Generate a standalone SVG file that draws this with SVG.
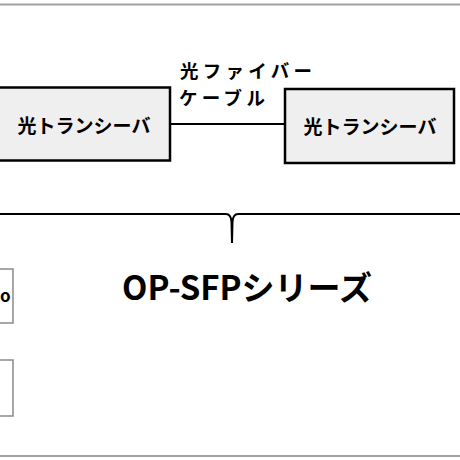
<svg xmlns="http://www.w3.org/2000/svg" width="460" height="460" viewBox="0 0 460 460">
<style>
.box{fill:#efefef;stroke:#000;stroke-width:2.5}
.sbox{fill:#fff;stroke:#8a8a8a;stroke-width:1.5}
.t{font-family:"Noto Sans CJK JP","Noto Sans",sans-serif;font-weight:bold;fill:#000}
.ln{stroke:#000;stroke-width:2;fill:none}
.rule{stroke:#a0a0a0;stroke-width:2}
</style>
<rect width="460" height="460" fill="#fff"/>
<line class="rule" x1="0" y1="4.5" x2="460" y2="4.5"/>
<line class="rule" x1="0" y1="456" x2="460" y2="456"/>
<g id="connectors">
<line class="ln" x1="170" y1="124" x2="285" y2="124"/>
<path class="ln" d="M0,214 H226 Q231,214 231.5,222 L232,243 L232.5,222 Q233,214 238,214 H460" stroke-width="2.5"/>
</g>
<g id="node-left">
<rect class="box" x="-3" y="87.5" width="173" height="73"/>
<text class="t" x="84" y="133" font-size="19" text-anchor="middle">光トランシーバ</text>
</g>
<g id="node-right">
<rect class="box" x="285" y="89" width="169" height="74"/>
<text class="t" x="370" y="134" font-size="19" text-anchor="middle">光トランシーバ</text>
</g>
<g id="label-cable">
<text class="t" x="180" y="78" font-size="18.5" textLength="132" lengthAdjust="spacing">光ファイバー</text>
<text class="t" x="179" y="105" font-size="18.5" textLength="86" lengthAdjust="spacing">ケーブル</text>
</g>
<g id="small1">
<rect class="sbox" x="-5" y="269" width="18" height="54"/>
<text class="t" x="0" y="302" font-size="17" font-weight="normal">o</text>
</g>
<g id="small2">
<rect class="sbox" x="-5" y="360" width="18" height="56"/>
</g>
<g id="series">
<text class="t" x="122" y="300" font-size="33">OP-SFPシリーズ</text>
</g>
</svg>
